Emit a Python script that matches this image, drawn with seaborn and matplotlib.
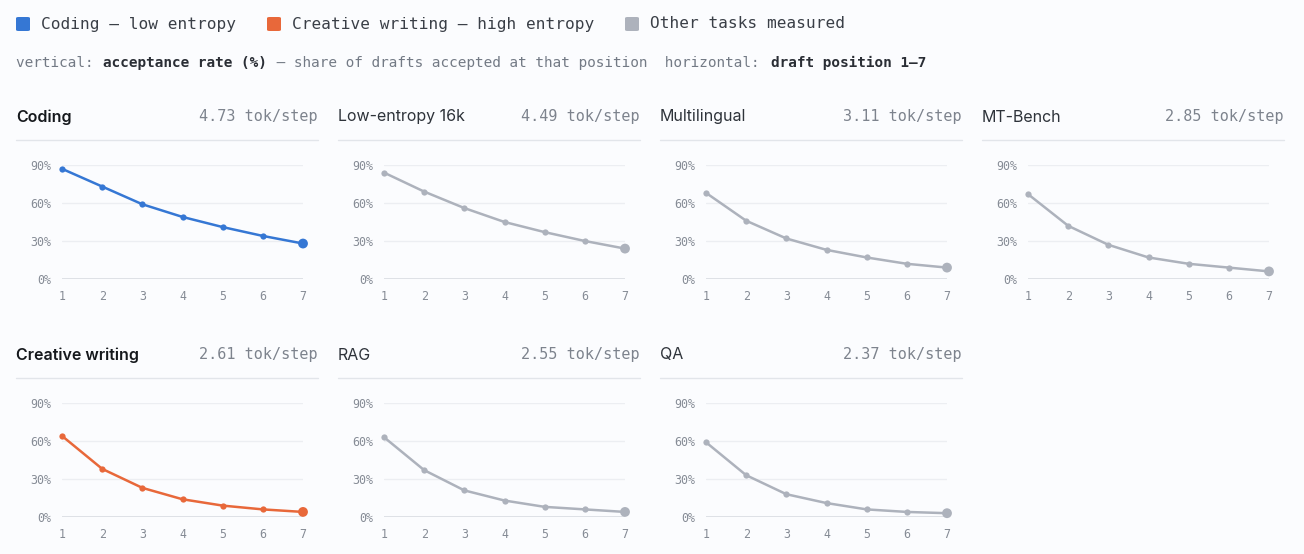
import matplotlib
matplotlib.use("Agg")
import matplotlib.pyplot as plt
import seaborn as sns
import pandas as pd

sns.set_theme(style="white")
plt.rcParams['font.family'] = ['Inter', 'DejaVu Sans']

positions = [1, 2, 3, 4, 5, 6, 7]
tasks = ["Coding", "Low-entropy 16k", "Multilingual", "MT-Bench",
         "Creative writing", "RAG", "QA"]
tok_per_step = [4.73, 4.49, 3.11, 2.85, 2.61, 2.55, 2.37]
coding = [87, 73, 59, 49, 41, 34, 28]
low_entropy = [84, 69, 56, 45, 37, 30, 24]
multilingual = [68, 46, 32, 23, 17, 12, 9]
mt_bench = [67, 42, 27, 17, 12, 9, 6]
creative = [64, 38, 23, 14, 9, 6, 4]
rag = [63, 37, 21, 13, 8, 6, 4]
qa = [59, 33, 18, 11, 6, 4, 3]
series = [coding, low_entropy, multilingual, mt_bench, creative, rag, qa]
yticks = [0, 30, 60, 90]

BLUE, ORANGE, GRAY = "#3577d4", "#e8683a", "#adb2bc"
colors = {"Coding": BLUE, "Creative writing": ORANGE}
BG = "#fbfcfe"
W, H = 1304, 554
MONO = "DejaVu Sans Mono"

fig = plt.figure(figsize=(W / 100, H / 100), dpi=100, facecolor=BG)

def ft(x, y, s, **kw):
    fig.text(x / W, 1 - y / H, s, **kw)

leg = [("Coding — low entropy", BLUE, 16), ("Creative writing — high entropy", ORANGE, 267),
       ("Other tasks measured", GRAY, 625)]
for lab, c, x0 in leg:
    fig.patches.append(matplotlib.patches.FancyBboxPatch(
        (x0 / W, 1 - 31 / H), 14 / W, 14 / H, boxstyle="round,pad=0,rounding_size=0.002",
        transform=fig.transFigure, facecolor=c, edgecolor="none"))
    ft(x0 + 25, 24, lab, family=MONO, fontsize=11.6, color="#3a3f47", va="center")

cw = 8.68
parts = [("vertical: ", False), ("acceptance rate (%)", True),
         (" — share of drafts accepted at that position  horizontal: ", False),
         ("draft position 1–7", True)]
x = 16
for s, b in parts:
    ft(x, 63, s, family=MONO, fontsize=10.4, va="center",
       color="#2a2e35" if b else "#737a85", fontweight="bold" if b else "normal")
    x += len(s) * cw

col_left = [16, 338, 660, 982]
for i, (name, vals, tps) in enumerate(zip(tasks, series, tok_per_step)):
    r, c = divmod(i, 4)
    left = col_left[c]
    dy = 238 * r
    ft(left, 117 + dy, name, fontsize=11.5, fontweight="semibold" if name in colors else "normal",
       color="#15181c" if name in colors else "#2e333a", va="center")
    ft(left + 302, 117 + dy, f"{tps:.2f} tok/step", family=MONO, fontsize=10.9,
       color="#7d838d", va="center", ha="right")
    fig.add_artist(plt.Line2D([left / W, (left + 302) / W], [1 - (140 + dy) / H] * 2,
                              transform=fig.transFigure, color="#e2e5ea", lw=1))
    ax_l, ax_r = left + 46, left + 287
    ax = fig.add_axes([ax_l / W, 1 - (279 + dy) / H, (ax_r - ax_l) / W, 114 / H])
    ax.set_facecolor("none")
    ax.set_xlim(1, 7)
    ax.set_ylim(0, 90)
    for yv in yticks:
        ax.axhline(yv, color="#d9dce2" if yv == 0 else "#eceef2", lw=1.2 if yv == 0 else 1, zorder=0)
    col = colors.get(name, GRAY)
    df = pd.DataFrame({"pos": positions, "rate": vals})
    sns.lineplot(data=df, x="pos", y="rate", ax=ax, color=col, lw=1.8, marker="o",
                 markersize=4.5, markeredgewidth=0, clip_on=False)
    sns.scatterplot(data=df.iloc[[-1]], x="pos", y="rate", ax=ax, color=col, s=50,
                    edgecolor="none", clip_on=False, zorder=5)
    ax.set_xticks(positions)
    ax.set_yticks(yticks)
    ax.set_yticklabels([f"{v}%" for v in yticks])
    ax.set_xlabel("")
    ax.set_ylabel("")
    for sp in ax.spines.values():
        sp.set_visible(False)
    ax.tick_params(length=0, labelsize=8.4, labelcolor="#858b95", pad=8)
    for lbl in ax.get_xticklabels() + ax.get_yticklabels():
        lbl.set_family(MONO)

fig.savefig("out.png", dpi=100, facecolor=BG)
